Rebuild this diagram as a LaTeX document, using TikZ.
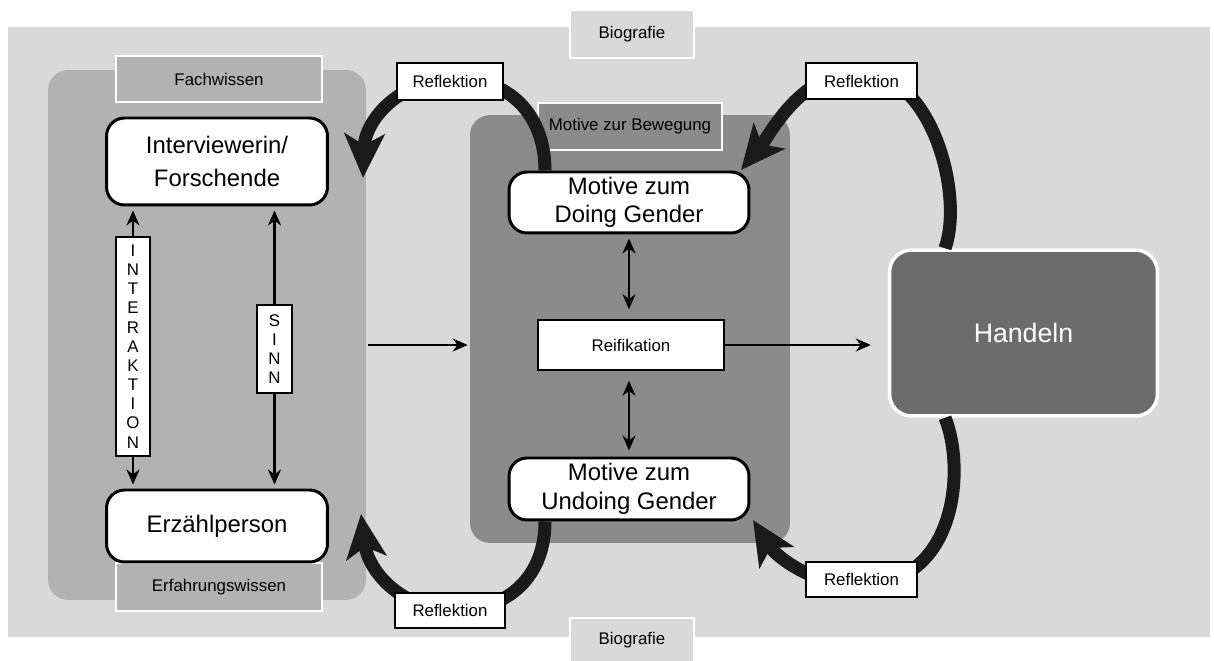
\documentclass[tikz,border=0pt]{standalone}
\usepackage{fontspec}
\setmainfont{Liberation Sans}
\usetikzlibrary{arrows.meta,calc}
\definecolor{bgout}{HTML}{D9D9D9}
\definecolor{bgleft}{HTML}{B2B2B2}
\definecolor{bgmid}{HTML}{8B8B8B}
\definecolor{handfill}{HTML}{6C6C6C}
\definecolor{arcc}{HTML}{1A1A1A}
\newcommand\fsmall{\fontsize{9.6}{11.5}\selectfont}
\newcommand\fbig{\fontsize{13.6}{16.2}\selectfont}
\begin{document}
\begin{tikzpicture}[x=0.02cm,y=-0.02cm,
  panel/.style={rounded corners=0.4cm, inner sep=0pt},
  lbl/.style={draw=white, line width=1.6pt, font=\fsmall, inner sep=0pt},
  wbox/.style={draw=black, line width=1.7pt, fill=white, rounded corners=0.36cm, font=\fbig, align=center, inner sep=0pt},
  rbox/.style={draw=black, line width=0.9pt, fill=white, font=\fsmall, inner sep=0pt},
  arr/.style={line width=1.4pt, draw=black, -{Stealth[length=0.3cm,width=0.26cm]}},
  darr/.style={line width=1.4pt, draw=black, {Stealth[length=0.3cm,width=0.26cm]}-{Stealth[length=0.3cm,width=0.26cm]}},
  bigarc/.style={line width=7.4pt, draw=arcc, -{Stealth[length=0.88cm,width=0.8cm,inset=0.22cm]}}
]
\useasboundingbox (0,0) rectangle (1214,661);
\fill[white] (0,0) rectangle (1214,661);
% panels
\node[fill=bgout, minimum width=24.04cm, minimum height=12.2cm, inner sep=0pt] (outer) at (609,332) {};
\node[panel, fill=bgleft, minimum width=6.36cm, minimum height=10.6cm] (leftp) at (207,335) {};
\node[panel, fill=bgmid, minimum width=6.4cm, minimum height=8.56cm] (midp) at (630,329) {};
% label boxes
\node[lbl, fill=bgout, minimum width=2.48cm, minimum height=0.96cm] (bioT) at (632,34) {Biografie};
\node[lbl, fill=bgout, minimum width=2.48cm, minimum height=0.88cm] (bioB) at (632,640) {Biografie};
\node[lbl, fill=bgleft, minimum width=4.12cm, minimum height=0.92cm] (fach) at (219,79) {Fachwissen};
\node[lbl, fill=bgleft, minimum width=4.12cm, minimum height=0.96cm] (erfw) at (219,587) {Erfahrungswissen};
\node[lbl, fill=bgmid, minimum width=3.68cm, minimum height=0.94cm] (motb) at (630,126.5) {Motive zur Bewegung};
% main boxes
\node[wbox, minimum width=4.42cm, minimum height=1.74cm, font=\fontsize{13.6}{18.7}\selectfont] (inter) at (217,161.5) {Interviewerin/\\Forschende};
\node[wbox, minimum width=4.42cm, minimum height=1.44cm] (erz) at (217,526) {Erzählperson};
\node[wbox, minimum width=4.8cm, minimum height=1.22cm] (doing) at (629,202.5) {Motive zum\\Doing Gender};
\node[wbox, minimum width=4.8cm, minimum height=1.24cm] (undoing) at (629,489) {Motive zum\\Undoing Gender};
\node[rbox, minimum width=3.72cm, minimum height=1.0cm] (reif) at (631,345) {Reifikation};
\node[draw=white, line width=2pt, fill=handfill, rounded corners=0.44cm, minimum width=5.36cm, minimum height=3.32cm, text=white, font=\fontsize{15.2}{18}\selectfont, inner sep=0pt] (hand) at (1023.5,333) {Handeln};
% left vertical arrows
\coordinate (ix) at (133,346.5);
\coordinate (sx) at (274.5,349);
\draw[darr, shorten <=0.08cm, shorten >=0.08cm] (inter.south -| ix) -- (erz.north -| ix);
\draw[darr, shorten <=0.08cm, shorten >=0.08cm] (inter.south -| sx) -- (erz.north -| sx);
\node[rbox, minimum width=0.68cm, minimum height=4.38cm, align=center, font=\fontsize{9.6}{10.9}\selectfont] (interak) at (ix) {I\\N\\T\\E\\R\\A\\K\\T\\I\\O\\N};
\node[rbox, minimum width=0.7cm, minimum height=1.76cm, align=center, font=\fontsize{9.6}{10.9}\selectfont] (sinn) at (sx) {S\\I\\N\\N};
% middle arrows
\draw[darr, shorten <=0.08cm, shorten >=0.2cm] (doing.south) -- (doing.south |- reif.north);
\draw[darr, shorten <=0.2cm, shorten >=0.12cm] (undoing.north |- reif.south) -- (undoing.north);
\draw[arr, shorten <=0.04cm, shorten >=0.04cm] (leftp.east |- reif.center) -- (midp.west |- reif.center);
\draw[arr, shorten >=0.34cm] (reif.east) -- (reif.east -| hand.west);
% big reflection arcs
\coordinate (tlT) at (455,79);
\coordinate (tlE) at (363,178);
\coordinate (trT) at (860,72);
\coordinate (trE) at (741,170);
\coordinate (brT) at (860,585);
\coordinate (brE) at (753,520);
\coordinate (blT) at (455,610);
\coordinate (blE) at (361,514);
\draw[bigarc] ([xshift=-1.68cm]doing.north) .. controls (545,120) and (515,79) .. (tlT) .. controls (400,79) and (365,120) .. (tlE);
\draw[bigarc] ([xshift=-1.57cm]hand.north) .. controls (964,195) and (932,72) .. (trT) .. controls (800,72) and (770,135) .. (trE);
\draw[bigarc] ([xshift=-1.57cm]hand.south) .. controls (966,470) and (956,585) .. (brT) .. controls (810,585) and (775,555) .. (brE);
\draw[bigarc] ([xshift=-1.68cm]undoing.south) .. controls (545,575) and (510,610) .. (blT) .. controls (400,610) and (368,570) .. (blE);
% reflection labels
\node[rbox, minimum width=2.12cm, minimum height=0.74cm] (rTL) at (450,81.5) {Reflektion};
\node[rbox, minimum width=2.22cm, minimum height=0.72cm] (rTR) at (861.5,81) {Reflektion};
\node[rbox, minimum width=2.2cm, minimum height=0.7cm] (rBL) at (450,610.5) {Reflektion};
\node[rbox, minimum width=2.22cm, minimum height=0.7cm] (rBR) at (861.5,579.5) {Reflektion};
\end{tikzpicture}
\end{document}
